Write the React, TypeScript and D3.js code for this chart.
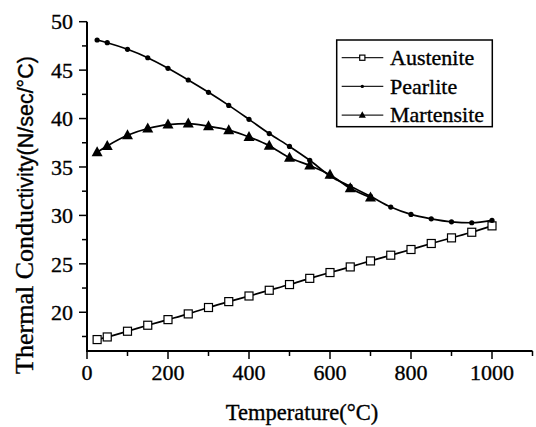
import React from "react";
import * as d3 from "d3";

const temps = [25, 50, 100, 150, 200, 250, 300, 350, 400, 450, 500, 550, 600, 650, 700, 750, 800, 850, 900, 950, 1000];
const austenite = [17.18, 17.45, 18.04, 18.66, 19.24, 19.83, 20.49, 21.1, 21.68, 22.27, 22.86, 23.5, 24.1, 24.68, 25.3, 25.89, 26.48, 27.1, 27.68, 28.26, 28.92];
const pearlite = [48.11, 47.83, 47.15, 46.28, 45.19, 43.98, 42.71, 41.36, 39.92, 38.45, 37.12, 35.69, 34.07, 33.0, 31.97, 30.86, 30.1, 29.65, 29.34, 29.24, 29.49];
const martensiteTemps = [25, 50, 100, 150, 200, 250, 300, 350, 400, 450, 500, 550, 600, 650, 700];
const martensite = [36.52, 37.17, 38.27, 38.97, 39.38, 39.48, 39.2, 38.8, 38.1, 37.2, 35.95, 35.15, 34.2, 32.8, 31.84];
const seriesNames = ["Austenite", "Pearlite", "Martensite"];
const xMajorTicks = [0, 200, 400, 600, 800, 1000];
const xMinorTicks = [100, 300, 500, 700, 900, 1100];
const yMajorTicks = [20, 25, 30, 35, 40, 45, 50];
const yMinorTicks = [17.5, 22.5, 27.5, 32.5, 37.5, 42.5, 47.5];

const serif = "'Liberation Serif', 'Times New Roman', Times, serif";
const sans = "'Liberation Sans', Arial, sans-serif";

function Marker({ kind, x, y, s = 1 }: { kind: string; x: number; y: number; s?: number }) {
  if (kind === "Austenite") {
    const w = 8 * s;
    return <rect x={x - w / 2} y={y - w / 2} width={w} height={w} fill="#fff" stroke="#000" strokeWidth={1.2} />;
  }
  if (kind === "Pearlite") {
    return <circle cx={x} cy={y} r={2.6 * s} fill="#000" />;
  }
  const h = 10 * s;
  const w = 11 * s;
  return <path d={`M${x},${y - h * 0.6}L${x + w / 2},${y + h * 0.4}L${x - w / 2},${y + h * 0.4}Z`} fill="#000" />;
}

export default function App() {
  const x = d3.scaleLinear().domain([0, 1100]).range([87, 532.5]);
  const y = d3.scaleLinear().domain([16, 50]).range([351, 21.7]);
  const line = d3
    .line<[number, number]>()
    .x((d) => x(d[0]))
    .y((d) => y(d[1]))
    .curve(d3.curveMonotoneX);

  const series = [
    { name: "Austenite", xs: temps, ys: austenite },
    { name: "Pearlite", xs: temps, ys: pearlite },
    { name: "Martensite", xs: martensiteTemps, ys: martensite },
  ];

  const x0 = x(0);
  const yBase = y(16);
  const textInk = { stroke: "#000", strokeWidth: 0.35 };

  return (
    <svg width={536} height={427} fontFamily={serif} style={{ position: "absolute", left: 0, top: 0, background: "#fff" }}>
      <rect x={0} y={0} width={536} height={427} fill="#fff" />
      {series.map((s) => {
        const pts = s.xs.map((t, i) => [t, s.ys[i]] as [number, number]);
        return (
          <g key={s.name}>
            <path d={line(pts) || ""} fill="none" stroke="#000" strokeWidth={1.7} />
            {pts.map((p, i) => (
              <Marker key={i} kind={s.name} x={x(p[0])} y={y(p[1])} />
            ))}
          </g>
        );
      })}

      {/* axes */}
      <line x1={x0} x2={x0} y1={y(50)} y2={yBase + 1} stroke="#000" strokeWidth={2} />
      <line x1={x0 - 1} x2={x(1100)} y1={yBase} y2={yBase} stroke="#000" strokeWidth={2} />
      <g fontFamily={serif} fontSize={22}>
        {yMajorTicks.map((t) => (
          <g key={"ym" + t}>
            <line x1={x0 - 8} x2={x0} y1={y(t)} y2={y(t)} stroke="#000" strokeWidth={1.5} />
            <text x={x0 - 14} y={y(t)} dy="0.35em" textAnchor="end" {...textInk}>
              {String(t)}
            </text>
          </g>
        ))}
        {yMinorTicks.map((t) => (
          <line key={"yn" + t} x1={x0 - 5} x2={x0} y1={y(t)} y2={y(t)} stroke="#000" strokeWidth={1.5} />
        ))}
        {xMajorTicks.map((t) => (
          <g key={"xm" + t}>
            <line x1={x(t)} x2={x(t)} y1={yBase} y2={yBase + 8} stroke="#000" strokeWidth={1.5} />
            <text x={x(t)} y={380} textAnchor="middle" {...textInk}>
              {String(t)}
            </text>
          </g>
        ))}
        {xMinorTicks.map((t) => (
          <line key={"xn" + t} x1={x(t)} x2={x(t)} y1={yBase} y2={yBase + 5} stroke="#000" strokeWidth={1.5} />
        ))}
      </g>

      {/* axis titles */}
      <text x={302} y={420} textAnchor="middle" fontSize={22.5} fontFamily={serif} {...textInk}>
        Temperature(°C)
      </text>
      <text transform="translate(33,215) rotate(-90)" textAnchor="middle" {...textInk}>
        <tspan fontFamily={serif} fontSize={26}>Thermal Conduc</tspan>
        <tspan fontFamily={sans} fontSize={21.5}>tivity(N/sec/°C)</tspan>
      </text>

      {/* legend */}
      <rect x={336.7} y={40} width={155.6} height={86.7} fill="#fff" stroke="#000" strokeWidth={1.5} />
      {seriesNames.map((n, i) => {
        const ly = 57.7 + i * 28.7;
        return (
          <g key={n}>
            <line x1={341.7} x2={383.3} y1={ly} y2={ly} stroke="#222" strokeWidth={1.2} />
            <Marker kind={n} x={362.3} y={ly} s={0.65} />
            <text x={390} y={ly} dy="0.33em" fontSize={22} fontFamily={serif} {...textInk}>
              {n}
            </text>
          </g>
        );
      })}
    </svg>
  );
}
